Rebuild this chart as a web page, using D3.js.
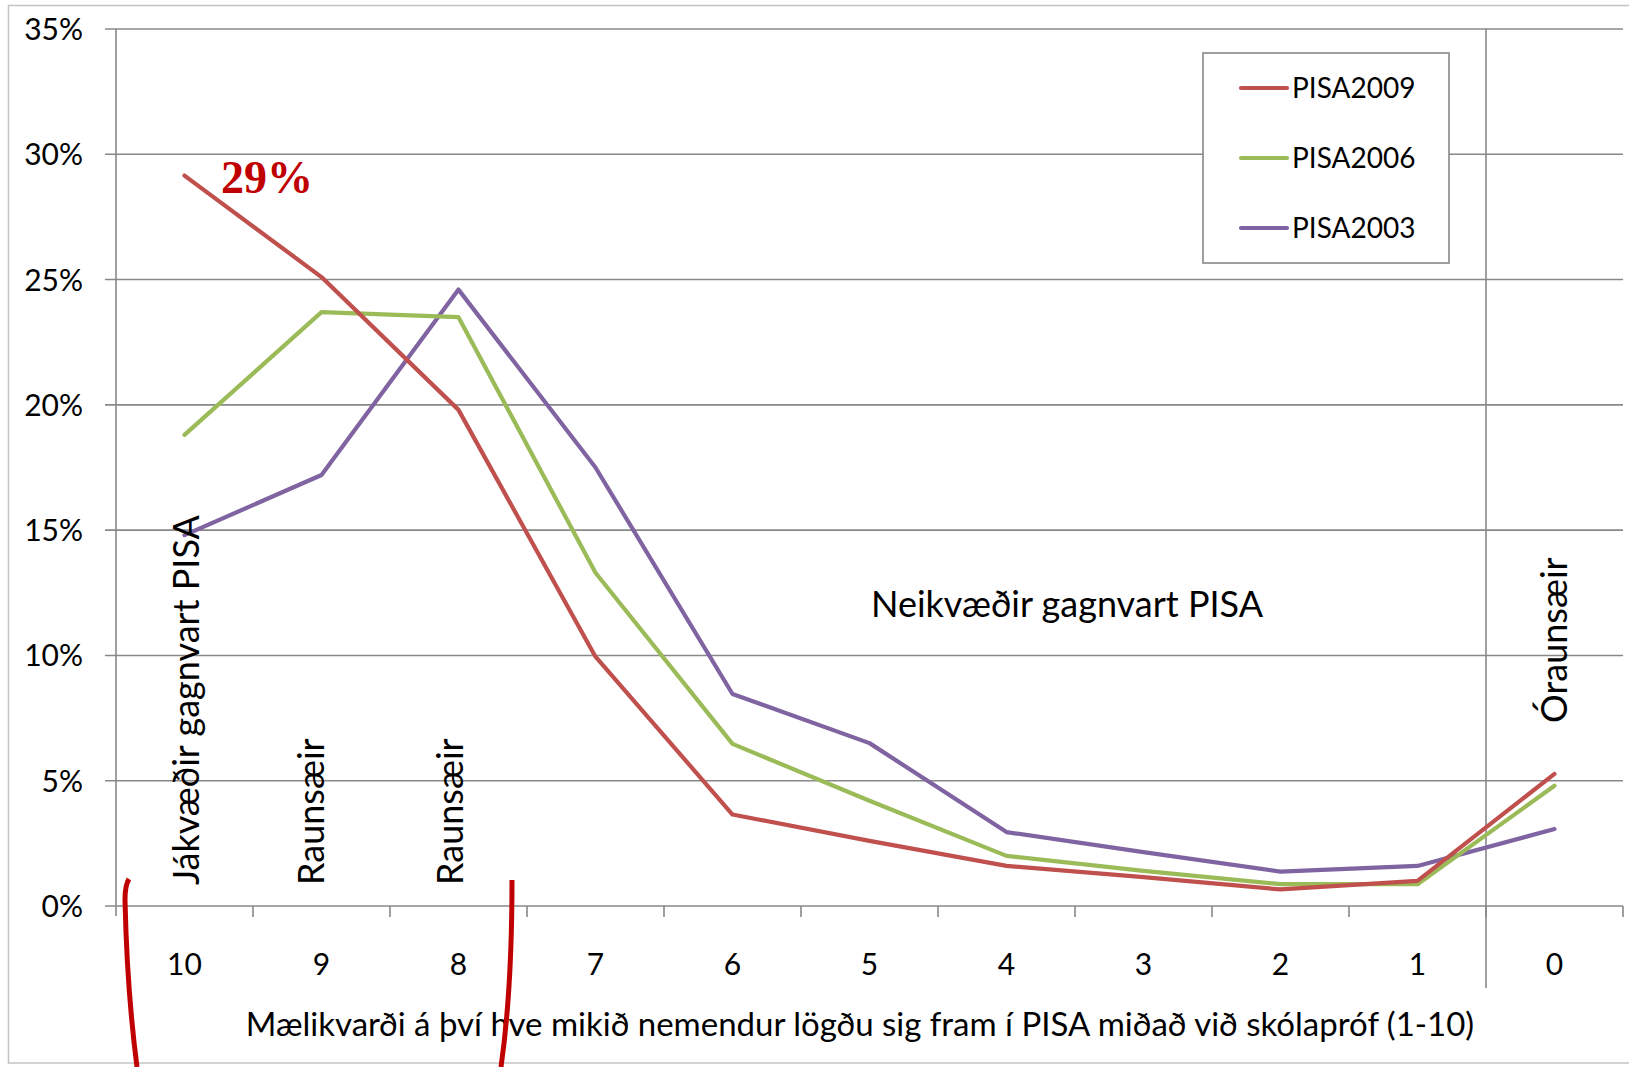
<!DOCTYPE html>
<html><head><meta charset="utf-8">
<script src="https://cdn.jsdelivr.net/npm/d3@7"></script>
<style>
html,body{margin:0;padding:0;background:#fff;}
svg{display:block;font-family:Lato,"Open Sans",sans-serif;}
</style></head>
<body>
<svg id="chart" width="1629" height="1067"></svg>
<script>
const categories = ["10","9","8","7","6","5","4","3","2","1","0"];
const pisa2009 = [29.15, 25.1, 19.8, 9.95, 3.65, 2.6, 1.6, 1.15, 0.66, 1.0, 5.27];
const pisa2006 = [18.8, 23.7, 23.5, 13.3, 6.47, 4.2, 2.0, 1.4, 0.87, 0.87, 4.8];
const pisa2003 = [14.8, 17.2, 24.6, 17.5, 8.46, 6.5, 2.95, 2.15, 1.37, 1.6, 3.07];
const seriesNames = ["PISA2009", "PISA2006", "PISA2003"];
const seriesColors = ["#C0504D", "#9BBB59", "#8064A2"];
const yTicks = [0, 5, 10, 15, 20, 25, 30, 35];
const xTitle = "Mælikvarði á því hve mikið nemendur lögðu sig fram í PISA miðað við skólapróf (1-10)";
const groupLabels = ["Jákvæðir gagnvart PISA", "Raunsæir", "Raunsæir"];
const groupLabelCats = ["10", "9", "8"];
const negLabel = "Neikvæðir gagnvart PISA";
const unrealLabel = "Óraunsæir";
const highlight = "29%";

(function () {
const svg = d3.select("#chart");
const pL = 116, pR = 1623, pT = 29, pB = 906;
const x = d3.scaleBand().domain(categories).range([pL, pR]).padding(0);
const y = d3.scaleLinear().domain([0, 35]).range([pB, pT]);
const grid = "#888888";

// outer border
svg.append("rect").attr("x", 8.5).attr("y", 5.5).attr("width", 1640).attr("height", 1057.5)
  .attr("fill", "none").attr("stroke", "#c4c4c4").attr("stroke-width", 1.5);

// gridlines
svg.append("g").selectAll("line").data(yTicks).join("line")
  .attr("x1", pL - 11).attr("x2", pR)
  .attr("y1", d => y(d)).attr("y2", d => y(d))
  .attr("stroke", grid).attr("stroke-width", 1.6);

// y axis line
svg.append("line").attr("x1", pL).attr("x2", pL).attr("y1", pT).attr("y2", pB + 10)
  .attr("stroke", grid).attr("stroke-width", 1.6);

// y labels
svg.append("g").selectAll("text").data(yTicks).join("text")
  .attr("x", 83).attr("y", d => y(d) + 11)
  .attr("text-anchor", "end").attr("font-size", 30).attr("fill", "#000")
  .text(d => d + "%");

// x ticks
const tickXs = categories.map(c => x(c)).concat([pR]);
svg.append("g").selectAll("line").data(tickXs.slice(1)).join("line")
  .attr("x1", d => d).attr("x2", d => d).attr("y1", pB).attr("y2", pB + 11)
  .attr("stroke", grid).attr("stroke-width", 1.6);

// divider before "0"
svg.append("line").attr("x1", x("0")).attr("x2", x("0")).attr("y1", pT).attr("y2", 988)
  .attr("stroke", grid).attr("stroke-width", 1.6);

// x labels
svg.append("g").selectAll("text").data(categories).join("text")
  .attr("x", d => x(d) + x.bandwidth() / 2).attr("y", 975)
  .attr("text-anchor", "middle").attr("font-size", 30).attr("fill", "#000")
  .text(d => d);

// x title
svg.append("text").attr("x", 860).attr("y", 1036).attr("text-anchor", "middle")
  .attr("font-size", 33).attr("fill", "#000").text(xTitle);

// lines
const allSeries = [pisa2009, pisa2006, pisa2003];
const lineGen = d3.line().x((d, i) => x(categories[i]) + x.bandwidth() / 2).y(d => y(d));
[2, 1, 0].forEach(k => {
  svg.append("path").datum(allSeries[k]).attr("d", lineGen)
    .attr("fill", "none").attr("stroke", seriesColors[k]).attr("stroke-width", 4.2)
    .attr("stroke-linejoin", "round").attr("stroke-linecap", "round");
});

// rotated group labels
const rotOffsets = [14, 2, 4];
groupLabels.forEach((t, i) => {
  const cx = x(groupLabelCats[i]) + x.bandwidth() / 2 + rotOffsets[i];
  svg.append("text").attr("transform", `translate(${cx},885) rotate(-90)`)
    .attr("font-size", 36).attr("fill", "#000").text(t);
});
svg.append("text").attr("transform", `translate(${x("0") + x.bandwidth() / 2 + 12},723) rotate(-90)`)
  .attr("font-size", 36).attr("fill", "#000").text(unrealLabel);

svg.append("text").attr("x", 1067).attr("y", 617).attr("text-anchor", "middle")
  .attr("font-size", 36).attr("fill", "#000").text(negLabel);

// highlight label
svg.append("text").attr("x", 221).attr("y", 193)
  .attr("font-family", "'Liberation Serif','Times New Roman',serif").attr("font-weight", "bold")
  .attr("font-size", 46).attr("fill", "#C00000").text(highlight);

// legend
const lg = svg.append("g");
lg.append("rect").attr("x", 1203).attr("y", 53).attr("width", 246).attr("height", 210)
  .attr("fill", "#fff").attr("stroke", "#888888").attr("stroke-width", 1.6);
seriesNames.forEach((n, i) => {
  const ly = 88 + i * 70;
  lg.append("line").attr("x1", 1241).attr("x2", 1287).attr("y1", ly).attr("y2", ly)
    .attr("stroke", seriesColors[i]).attr("stroke-width", 4.2).attr("stroke-linecap", "round");
  lg.append("text").attr("x", 1292).attr("y", ly + 10).attr("font-size", 28).attr("fill", "#000").text(n);
});

// red hand-drawn brackets
svg.append("path").attr("d", "M129,879 Q125,885 125,900 Q127,990 137,1067")
  .attr("fill", "none").attr("stroke", "#C00000").attr("stroke-width", 5);
svg.append("path").attr("d", "M512,880 Q512,990 501,1067")
  .attr("fill", "none").attr("stroke", "#C00000").attr("stroke-width", 5);
})();
</script>
</body></html>
